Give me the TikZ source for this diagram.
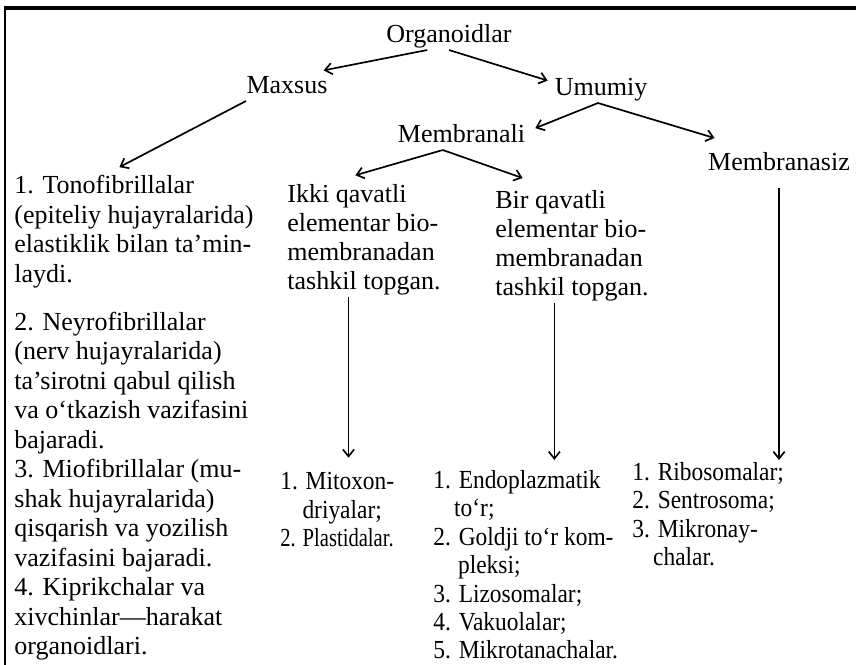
\documentclass[tikz,border=0pt]{standalone}
\usepackage{fontspec}
\setmainfont{Liberation Serif}
\newfontfamily\narrowfont[FakeStretch=0.9]{Liberation Serif}
\usepackage{graphicx}
\usetikzlibrary{arrows.meta}

\begin{document}
\begin{tikzpicture}[x=0.025cm, y=-0.025cm,
    >={Straight Barb[length=5pt,width=8pt]},
    lbl/.style={inner sep=1.5pt, text height=12.7pt, text depth=4pt,
        font=\fontsize{18.5}{20.6}\selectfont},
    blk/.style={inner sep=1.5pt, anchor=north west, align=left,
        font=\fontsize{18.5}{20.6}\selectfont},
    low/.style={blk, font=\fontsize{18.5}{20.2}\selectfont\narrowfont},
    arr/.style={->, line width=1.2pt}]
    \useasboundingbox (0,0) rectangle (856,665);
    % frame
    \draw[line width=2.2pt] (4,8) -- (856,8);
    \draw[line width=2pt] (5,8) -- (5,665);

    \node[lbl, anchor=base] (org) at (449,42) {Organoidlar};
    \node[lbl, anchor=base] (maxsus) at (287,93) {Maxsus};
    \node[lbl, anchor=base] (umumiy) at (601,95) {Umumiy};
    \node[lbl, anchor=base] (membranali) at (461.5,142) {Membranali};
    \node[lbl, anchor=base] (membranasiz) at (779,170) {Membranasiz};

    \node[blk, font=\fontsize{18.5}{21}\selectfont] (fibril) at (12,173) {1. Tonofibrillalar\\
        (epiteliy hujayralarida)\\ elastiklik bilan ta’min-\\ laydi.\\[13pt]
        2. Neyrofibrillalar\\ (nerv hujayralarida)\\ ta’sirotni qabul qilish\\
        va o‘tkazish vazifasini\\ bajaradi.\\ 3. Miofibrillalar (mu-\\
        shak hujayralarida)\\ qisqarish va yozilish\\ vazifasini bajaradi.\\
        4. Kiprikchalar va\\ xivchinlar—harakat\\ organoidlari.};
    \node[blk] (ikki) at (285,182) {Ikki qavatli\\ elementar bio-\\ membranadan\\ tashkil topgan.};
    \node[blk] (bir) at (493,188) {Bir qavatli\\ elementar bio-\\ membranadan\\ tashkil topgan.};

    \node[low] (mito) at (278,470) {1. Mitoxon-\\ \hspace*{0.85em}driyalar;\\
        \scalebox{0.88}[1]{2. Plastidalar.}};
    \node[low] (endo) at (431,468) {1. Endoplazmatik\\ \hspace*{0.8em}to‘r;\\
        2. Goldji to‘r kom-\\ \hspace*{0.95em}pleksi;\\ 3. Lizosomalar;\\
        4. Vakuolalar;\\ 5. Mikrotanachalar.};
    \node[low] (ribo) at (630,460) {1. Ribosomalar;\\ 2. Sentrosoma;\\
        3. Mikronay-\\ \hspace*{0.8em}chalar.};

    \draw[arr, shorten >=8.8pt] (org.213) -- (maxsus.30);
    \draw[arr, shorten >=3.5pt] (org.south) -- (umumiy.172);
    \draw[arr, shorten >=9pt] (maxsus.199) -- (fibril.96);
    \draw[arr, shorten >=6pt] (umumiy.258) -- (membranali.4);
    \draw[arr, shorten >=28.9pt] (umumiy.258) -- (membranasiz.151);
    \draw[arr, shorten >=17.3pt] (membranali.217) -- (ikki.119);
    \draw[arr, shorten >=21.4pt] (membranali.217) -- (bir.110);
    \draw[arr, shorten >=8.7pt] (ikki.255) -- (ikki.255 |- mito.north);
    \draw[arr, shorten >=5.7pt] (bir.253) -- (bir.253 |- endo.north);
    \draw[arr, shorten <=7.3pt] (membranasiz.south) -- (membranasiz.south |- ribo.north);
\end{tikzpicture}
\end{document}
